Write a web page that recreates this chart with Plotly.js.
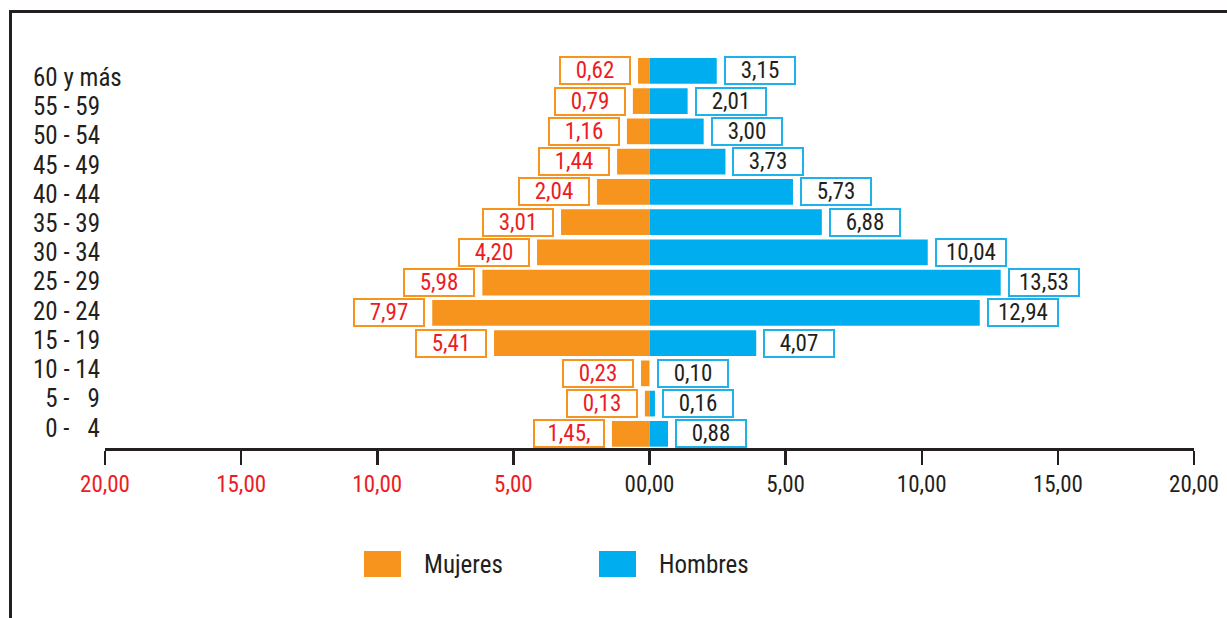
<!DOCTYPE html>
<html>
<head>
<meta charset="utf-8">
<script src="https://cdn.plot.ly/plotly-3.0.1.min.js"></script>
<style>
  html, body { margin: 0; padding: 0; background: #fff; overflow: hidden; }
  #wrap { position: relative; width: 1227px; height: 618px; }
  #chart { position: absolute; left: 0; top: 0; width: 1227px; height: 618px; }
  #frame { position: absolute; left: 9px; top: 10px; width: 1400px; height: 800px;
           border-top: 3px solid #231f20; border-left: 3px solid #231f20; pointer-events: none; }
</style>
</head>
<body>
<div id="wrap">
  <div id="chart"></div>
  <div id="frame"></div>
</div>
<script>
// ---- data (bottom to top) ----
const ageGroups = ["0 - 4", "5 - 9", "10 - 14", "15 - 19", "20 - 24", "25 - 29", "30 - 34",
                   "35 - 39", "40 - 44", "45 - 49", "50 - 54", "55 - 59", "60 y más"];
const ageLabels = ["\u20070 - \u20074", "\u20075 - \u20079", "10 - 14", "15 - 19", "20 - 24", "25 - 29", "30 - 34",
                   "35 - 39", "40 - 44", "45 - 49", "50 - 54", "55 - 59", "60 y más"];
// bar lengths as drawn in the picture
const mujeresBar = [1.38, 0.17, 0.31, 5.71, 7.98, 6.14, 4.13, 3.25, 1.93, 1.19, 0.83, 0.61, 0.42];
const hombresBar = [0.68, 0.20, 0.00, 3.92, 12.13, 12.90, 10.22, 6.33, 5.27, 2.79, 1.99, 1.40, 2.47];
// value labels printed in the boxes
const mujeresText = ["1,45,", "0,13", "0,23", "5,41", "7,97", "5,98", "4,20", "3,01", "2,04", "1,44", "1,16", "0,79", "0,62"];
const hombresText = ["0,88", "0,16", "0,10", "4,07", "12,94", "13,53", "10,04", "6,88", "5,73", "3,73", "3,00", "2,01", "3,15"];
const tickVals = [-20, -15, -10, -5, 0, 5, 10, 15, 20];
const tickLabels = ["20,00", "15,00", "10,00", "5,00", "00,00", "5,00", "10,00", "15,00", "20,00"];

// ---- style ----
const ORANGE = "#f7941d", BLUE = "#00aeef", RED = "#ed1c24", DARK = "#231f20";
const FONT = "'Liberation Sans Narrow', 'Arial Narrow', 'Roboto Condensed', Arial, sans-serif";
const WT = 400;

const W = 1227, H = 618;
const M = { l: 105, r: 33, t: 56, b: 170 };
const PW = W - M.l - M.r, PH = H - M.t - M.b;
const px2x = px => (px - M.l) / PW;
const px2y = py => (H - M.b - py) / PH;

const traces = [
  { type: "bar", orientation: "h", name: "Mujeres", y: ageGroups, x: mujeresBar.map(v => -v),
    marker: { color: ORANGE }, hoverinfo: "skip" },
  { type: "bar", orientation: "h", name: "Hombres", y: ageGroups, x: hombresBar,
    marker: { color: BLUE }, hoverinfo: "skip" }
];

const annotations = [];
const boxCommon = { showarrow: false, bgcolor: "#fff", borderwidth: 2, borderpad: 1,
                    width: 66, height: 23, align: "center", yref: "y", xref: "x" };
ageGroups.forEach((g, i) => {
  annotations.push(Object.assign({}, boxCommon, {
    x: -mujeresBar[i], y: g, xanchor: "right", xshift: -7, text: mujeresText[i],
    bordercolor: ORANGE, font: { family: FONT, size: 23, color: RED, weight: WT } }));
  annotations.push(Object.assign({}, boxCommon, {
    x: hombresBar[i], y: g, xanchor: "left", xshift: 7, text: hombresText[i],
    bordercolor: "#1fb1e9", font: { family: FONT, size: 23, color: DARK, weight: WT } }));
  // category labels (left aligned)
  const shift = -(6.5 - (12 - i) * 1.02);
  annotations.push({ showarrow: false, xref: "paper", x: px2x(31), xanchor: "left",
    yref: "y", y: g, yshift: shift, text: ageLabels[i],
    font: { family: FONT, size: 25, color: DARK, weight: WT } });
});

// legend
const legendItems = [
  { name: "Mujeres", color: ORANGE, sq: 364, tx: 422 },
  { name: "Hombres", color: BLUE, sq: 599, tx: 657 }
];
const shapes = [];
legendItems.forEach(it => {
  shapes.push({ type: "rect", xref: "paper", yref: "paper",
    x0: px2x(it.sq), x1: px2x(it.sq + 37), y0: px2y(577), y1: px2y(551),
    fillcolor: it.color, line: { width: 0 } });
  annotations.push({ showarrow: false, xref: "paper", yref: "paper",
    x: px2x(it.tx), y: px2y(564), xanchor: "left", yanchor: "middle", text: it.name,
    font: { family: FONT, size: 25, color: DARK, weight: WT } });
});

const ticktext = tickLabels.map((t, i) => tickVals[i] < 0
  ? '<span style="color:' + RED + '">' + t + '</span>' : t);

const layout = {
  width: W, height: H,
  margin: M,
  paper_bgcolor: "#fff", plot_bgcolor: "#fff",
  barmode: "relative", bargap: 0.15,
  showlegend: false,
  xaxis: { range: [-20, 20], tickvals: tickVals, ticktext: ticktext, showgrid: false, zeroline: false,
           showline: true, linecolor: DARK, linewidth: 2.5, ticks: "outside", ticklen: 14, tickwidth: 2.5,
           tickcolor: DARK, tickfont: { family: FONT, size: 23, color: DARK, weight: WT }, fixedrange: true },
  yaxis: { type: "category", categoryorder: "array", categoryarray: ageGroups, range: [-0.468, 12.49],
           showticklabels: false, showgrid: false, zeroline: false, showline: false, ticks: "", fixedrange: true },
  annotations: annotations,
  shapes: shapes
};

Plotly.newPlot("chart", traces, layout, { displayModeBar: false, staticPlot: true });
</script>
</body>
</html>
